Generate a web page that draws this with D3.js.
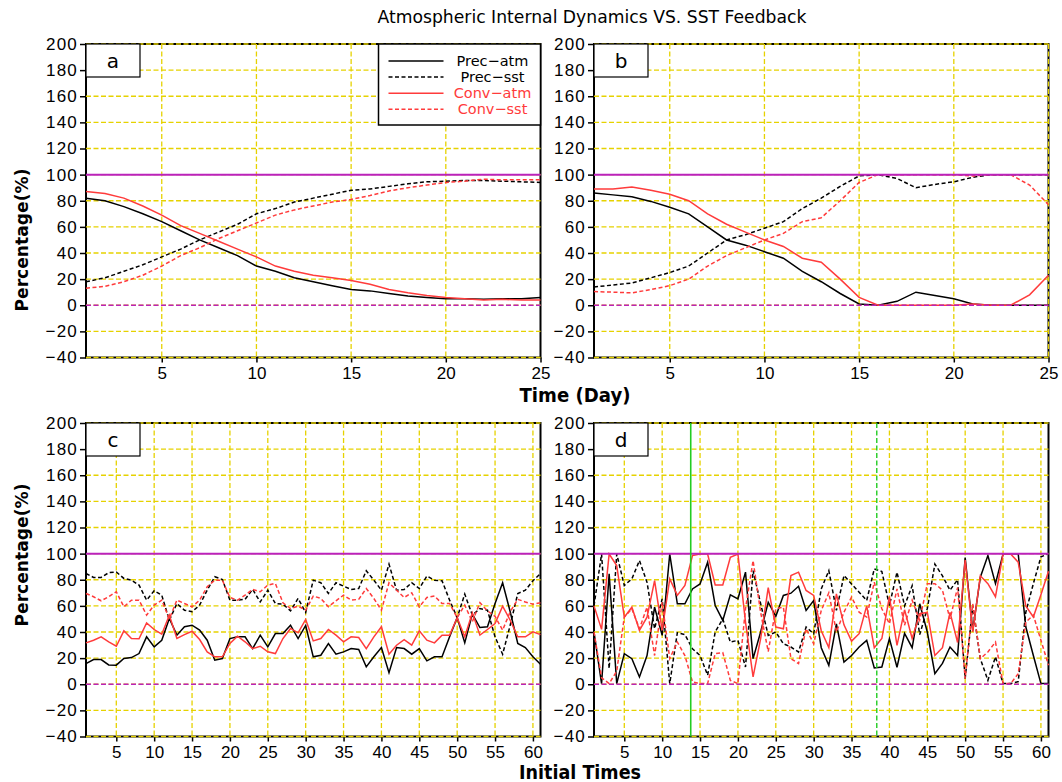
<!DOCTYPE html>
<meta charset="utf-8">
<style>

body { margin: 0; background: #fff; }
svg { display: block; font-family: "DejaVu Sans", sans-serif; }
.grid line { stroke: #e6d200; stroke-width: 1.3; stroke-dasharray: 5,2.5; }
.axis text { font-size: 17px; fill: #000; }
.axis line { stroke: #000; stroke-width: 1.5; }
.frame { fill: none; stroke: #000; stroke-width: 2; }

</style>
<body>
<script src="https://d3js.org/d3.v7.min.js"></script>
<script>

// categories / ticks
var days = d3.range(1, 26);
var initTimes = d3.range(1, 62);
var yTicks = [-40, -20, 0, 20, 40, 60, 80, 100, 120, 140, 160, 180, 200];
var dayTicks = [5, 10, 15, 20, 25];
var initTicks = [5, 10, 15, 20, 25, 30, 35, 40, 45, 50, 55, 60];
var seriesNames = ["Prec\u2212atm", "Prec\u2212sst", "Conv\u2212atm", "Conv\u2212sst"];

// panel a
var precAtmA = [82, 80, 75.5, 70, 64, 57, 50, 44, 38, 30, 26, 21, 18, 15, 12, 11, 9, 7, 6, 5, 5, 4.5, 5, 5, 6];
var precSstA = [18, 21, 26, 31, 37, 43, 50, 56, 62, 70, 74, 79, 82, 85, 88, 89, 91, 93, 94.5, 95, 95.5, 95.5, 95, 94.5, 94];
var convAtmA = [87, 85.5, 82, 76, 69, 61, 55, 49, 43, 37, 30, 26, 23, 21, 19, 16, 12, 9.5, 7.5, 6, 5, 4, 4.5, 4, 4];
var convSstA = [13, 14.5, 18, 23, 30, 38, 44, 51, 57, 63, 69, 73, 76, 79, 81, 84, 87.5, 90, 92, 94, 95, 96.5, 96, 96, 96];

// panel b
var precAtmB = [86, 84.5, 83, 79.5, 75, 70, 60, 50, 46, 41, 36, 26, 18, 9, 1, 0, 3, 10, 7.5, 5, 1, 0, 0, 0, 0];
var precSstB = [14, 15.5, 17, 21, 25, 30, 40, 50, 54, 59, 64, 74, 82, 91, 99, 100, 97, 90, 92.5, 94.5, 98, 100, 100, 100, 100];
var convAtmB = [89, 89, 90.5, 88, 85, 80, 70, 62, 56, 50, 45, 36, 33, 20, 6, 0, 0, 0, 0, 0, 1, 0, 0, 8, 23];
var convSstB = [10.5, 10, 9.5, 12, 15, 20, 30, 38, 44, 50, 55, 64, 67, 80, 94, 100, 100, 100, 100, 100, 99, 100, 100, 92, 77];

// panel c
var precAtmC = [15.8, 18.9, 18.9, 14.8, 14.6, 19.7, 20.4, 23.5, 36.3, 28.6,
  33.7, 50.3, 37.6, 44, 45.2, 41.4, 33.7, 18.4, 19.7, 35,
  36.3, 36.3, 27.3, 37.6, 28.6, 38.8, 38.8, 45.2, 35, 45,
  21, 22.2, 31.2, 23, 24.8, 27.3, 26.6, 13.3, 21, 28.1,
  8.9, 28.1, 27.3, 23, 27.3, 17.9, 21, 21, 36.3, 51,
  31.7, 53.7, 43.4, 44, 61.8, 77.7, 55.5, 31.2, 28.1, 21, 15.3];
var precSstC = [84.8, 81.8, 81.8, 85.4, 85.9, 81, 79.7, 75.9, 64.4, 71.6,
  68.2, 49, 61.8, 56.7, 55.5, 60.6, 72, 82.3, 80.2, 64.4,
  64.4, 65, 72.6, 63, 72, 61.8, 61.3, 56.2, 65.7, 55,
  79.7, 77.7, 69.5, 77.7, 75.1, 72.6, 73.3, 86.9, 79.7, 72,
  92, 72, 72.6, 77.7, 73.3, 82.8, 79.7, 79.2, 64.4, 51,
  69, 52.9, 58, 56.7, 36.3, 23, 45.2, 69.5, 72, 79.2, 84.8];
var convAtmC = [31.7, 33.7, 36.3, 32.5, 29.1, 40.9, 35, 34.8, 47, 41.9,
  38.3, 52.9, 35, 38, 40.6, 34.2, 24.8, 21, 21, 31.2,
  36.8, 32.5, 27.3, 29.1, 24.8, 23.5, 35, 42.7, 39.4, 49.6,
  33.2, 35, 41.9, 37.6, 32.5, 36.3, 35.8, 27.3, 36.3, 44,
  23, 29.9, 34.2, 29.9, 40.9, 33.7, 31.7, 37.6, 37.6, 51,
  36.3, 54.7, 37.6, 41.9, 46.5, 59.8, 49, 36.3, 36.3, 40.1, 38];
var convSstC = [69.5, 67, 63.9, 67, 70.8, 59.3, 64.4, 64.4, 52.9, 60.6,
  64.4, 50, 64.4, 61.8, 59.3, 64.4, 74.6, 79.7, 79.7, 66.4,
  64.4, 68.2, 72.6, 70.8, 75.9, 77.2, 62.4, 58, 59.8, 56.7,
  67.5, 65.7, 59.3, 63.9, 68.2, 64.4, 65, 73.3, 65.7, 56.7,
  77.7, 72, 66.4, 70, 59.3, 66.4, 67.5, 61.8, 61.8, 51,
  60.6, 47.8, 62.4, 56.2, 52, 41.4, 55.5, 65, 63, 61.3, 62.4];

// panel d
var precAtmD = [40, 0.5, 84.5, 0.5, 23.4, 19.6, 5.6, 22, 59, 37.4,
  99.7, 61.6, 61.6, 73, 76.8, 93.4, 60.3, 48.9, 68.4, 65.4,
  85.8, 19.6, 40, 62.8, 52, 68, 69.7, 75, 56.5, 64,
  28, 14.5, 46.3, 17, 22, 28.5, 33.6, 12.5, 13.2, 34.9,
  13, 39, 28, 61.6, 40, 8.1, 16, 28.5, 22, 97,
  41, 82, 98.5, 77, 99.7, 100, 100, 44, 22, 0.5, 0.5];
var precSstD = [60, 99.7, 12, 99.7, 75.6, 80.7, 94.7, 78, 42.5, 65.4,
  0.5, 39.4, 38, 27.2, 22, 6.9, 40, 50, 32.3, 33.6,
  13.2, 87, 61.6, 37.4, 40, 31, 28.5, 24.7, 43.8, 38.7,
  73, 87, 56.5, 83.2, 76.8, 70.5, 64.1, 88.3, 86.3, 60.3,
  85.8, 60, 75.5, 38, 58, 92, 83, 72, 80, 4.3,
  60, 19.6, 3, 21, 0.5, 0.5, 2, 55, 77, 97.5, 100];
var convAtmD = [60, 42, 99.7, 90.8, 51.4, 59, 41.2, 51.4, 79.4, 41.2,
  80.7, 68, 75.6, 98.5, 99.7, 99.7, 76, 76, 97.2, 99.7,
  47.6, 5.6, 35, 74, 43.8, 42.5, 83.2, 85.8, 71.8, 68,
  41, 28, 69.2, 45.5, 33, 38.7, 60, 28, 35, 67,
  29.8, 57, 35, 54, 55, 22, 28, 55, 32, 95,
  40, 83, 77, 67, 99.7, 99.7, 93.5, 60, 51.5, 68.5, 86.5];
var convSstD = [40, 5, 0.5, 10, 51.4, 57.8, 42.5, 59, 22, 62.8,
  19.6, 32.3, 22, 1.8, 0.5, 0.5, 23.4, 24.2, 3, 0.5,
  57.8, 94.7, 55, 25, 57.8, 59, 19.6, 15.8, 42.5, 31,
  56.5, 70, 40, 55.2, 66.7, 55.2, 51.4, 78.1, 57.8, 46.3,
  73, 45.2, 64.4, 49, 77, 77, 72, 50, 74, 4.3,
  61.6, 19.6, 24.7, 32.3, 0.5, 0.5, 8, 47.6, 52.9, 33.7, 14.6];

// reference lines in panel d
var greenSolidAt = 13.77, greenDashedAt = 38.33;

var seriesColor = ["#000", "#000", "#ff3b3b", "#ff3b3b"];
var seriesDash = [null, "4,2.5", null, "4,2.5"];
var magenta = "#bb22bb";

var pw = 454.5, ph = 313.5;
var panels = [
  {label: "a", left: 86, top: 44, xs: days, ticks: dayTicks, dom: [1, 25], series: [precAtmA, precSstA, convAtmA, convSstA], gridEdge: false, legend: true},
  {label: "b", left: 594, top: 44, xs: days, ticks: dayTicks, dom: [1, 25], series: [precAtmB, precSstB, convAtmB, convSstB], gridEdge: true},
  {label: "c", left: 86, top: 423, xs: initTimes, ticks: initTicks, dom: [1, 61], series: [precAtmC, precSstC, convAtmC, convSstC], gridEdge: false},
  {label: "d", left: 594, top: 423, xs: initTimes, ticks: initTicks, dom: [1, 61], series: [precAtmD, precSstD, convAtmD, convSstD], gridEdge: false, green: true}
];

var svg = d3.select("body").append("svg")
    .attr("width", 1062)
    .attr("height", 782);

svg.append("rect").attr("width", 1062).attr("height", 782).attr("fill", "#fff");

// title and axis labels
svg.append("text")
    .attr("x", 592).attr("y", 23)
    .attr("text-anchor", "middle")
    .attr("font-size", "18px")
    .attr("textLength", 429).attr("lengthAdjust", "spacingAndGlyphs")
    .text("Atmospheric Internal Dynamics VS. SST Feedback");

[240, 555].forEach(function(cy) {
  svg.append("text")
      .attr("transform", "translate(28," + cy + ") rotate(-90)")
      .attr("text-anchor", "middle")
      .attr("font-size", "18px").attr("font-weight", "bold")
      .attr("textLength", 143).attr("lengthAdjust", "spacingAndGlyphs")
      .text("Percentage(%)");
});

svg.append("text")
    .attr("x", 575).attr("y", 402)
    .attr("text-anchor", "middle")
    .attr("font-size", "19px").attr("font-weight", "bold")
    .attr("textLength", 111).attr("lengthAdjust", "spacingAndGlyphs")
    .text("Time (Day)");

svg.append("text")
    .attr("x", 580).attr("y", 779)
    .attr("text-anchor", "middle")
    .attr("font-size", "19px").attr("font-weight", "bold")
    .attr("textLength", 122).attr("lengthAdjust", "spacingAndGlyphs")
    .text("Initial Times");

panels.forEach(function(p) {
  var g = svg.append("g").attr("transform", "translate(" + p.left + "," + p.top + ")");
  var x = d3.scaleLinear().domain(p.dom).range([0, pw]);
  var y = d3.scaleLinear().domain([-40, 200]).range([ph, 0]);

  // axes
  g.append("g").attr("class", "axis")
      .call(d3.axisLeft(y).tickValues(yTicks).tickSize(6).tickPadding(2))
      .call(function(s) { s.select(".domain").remove(); })
      .selectAll("text").attr("letter-spacing", "1.2px");
  g.append("g").attr("class", "axis")
      .attr("transform", "translate(0," + ph + ")")
      .call(d3.axisBottom(x).tickValues(p.ticks).tickSize(5).tickPadding(4))
      .call(function(s) { s.select(".domain").remove(); });

  g.append("rect").attr("class", "frame").attr("width", pw).attr("height", ph);

  // grid
  var grid = g.append("g").attr("class", "grid");
  grid.selectAll(".gy").data(yTicks).enter().append("line")
      .attr("x1", 0).attr("x2", pw)
      .attr("y1", function(d) { return y(d); }).attr("y2", function(d) { return y(d); });
  grid.selectAll(".gx").data(p.ticks.filter(function(t) { return p.gridEdge || t < p.dom[1]; }))
    .enter().append("line")
      .attr("y1", 0).attr("y2", ph)
      .attr("x1", function(d) { return x(d); }).attr("x2", function(d) { return x(d); });

  // series
  var line = d3.line()
      .x(function(d, i) { return x(p.xs[i]); })
      .y(function(d) { return y(d); });
  p.series.forEach(function(s, k) {
    g.append("path")
        .datum(s)
        .attr("fill", "none")
        .attr("stroke", seriesColor[k])
        .attr("stroke-width", 1.5)
        .attr("stroke-dasharray", seriesDash[k])
        .attr("d", line);
  });

  // reference lines
  g.append("line").attr("x1", 0).attr("x2", pw).attr("y1", y(100)).attr("y2", y(100))
      .attr("stroke", magenta).attr("stroke-width", 2);
  g.append("line").attr("x1", 0).attr("x2", pw).attr("y1", y(0)).attr("y2", y(0))
      .attr("stroke", magenta).attr("stroke-width", 1.5).attr("stroke-dasharray", "5,2.5");

  if (p.green) {
    g.append("line").attr("x1", x(greenSolidAt)).attr("x2", x(greenSolidAt))
        .attr("y1", 0).attr("y2", ph).attr("stroke", "#22cc22").attr("stroke-width", 1.6);
    g.append("line").attr("x1", x(greenDashedAt)).attr("x2", x(greenDashedAt))
        .attr("y1", 0).attr("y2", ph).attr("stroke", "#22cc22").attr("stroke-width", 1.4)
        .attr("stroke-dasharray", "5,2.5");
  }

  // panel label box
  g.append("rect").attr("x", 0).attr("y", 0).attr("width", 54).attr("height", 33)
      .attr("fill", "#fff").attr("stroke", "#000").attr("stroke-width", 1.2);
  g.append("text").attr("x", 27).attr("y", 24)
      .attr("text-anchor", "middle").attr("font-size", "20px")
      .text(p.label);

  // legend
  if (p.legend) {
    var lg = g.append("g").attr("transform", "translate(" + (pw - 162) + ",0)");
    lg.append("rect").attr("width", 162).attr("height", 81)
        .attr("fill", "#fff").attr("stroke", "#000").attr("stroke-width", 1.5);
    seriesNames.forEach(function(name, k) {
      var ry = 17 + k * 16.1;
      lg.append("line").attr("x1", 10).attr("x2", 65).attr("y1", ry).attr("y2", ry)
          .attr("stroke", seriesColor[k]).attr("stroke-width", 1.5)
          .attr("stroke-dasharray", seriesDash[k]);
      lg.append("text").attr("x", 114).attr("y", ry + 5)
          .attr("text-anchor", "middle").attr("font-size", "14.5px")
          .attr("fill", seriesColor[k])
          .text(name);
    });
  }
});

</script>
</body>
